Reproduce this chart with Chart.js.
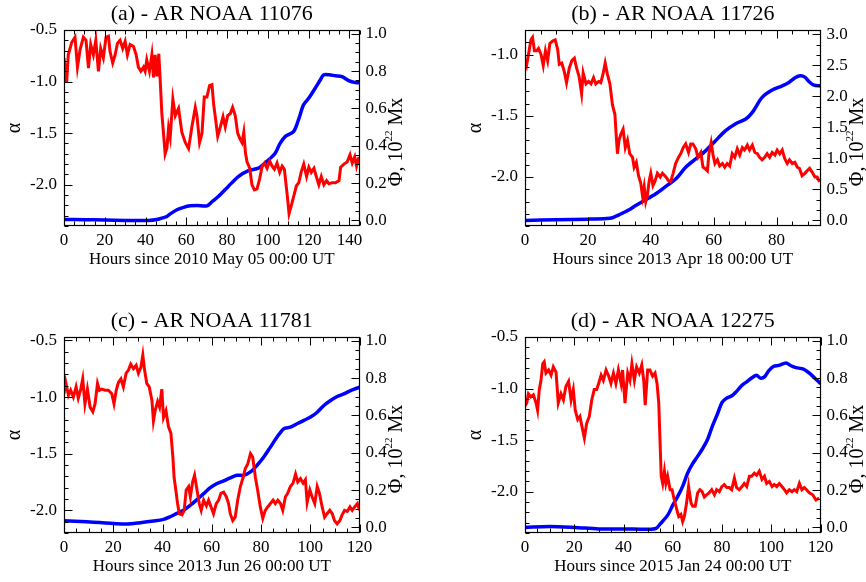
<!DOCTYPE html>
<html>
<head>
<meta charset="utf-8">
<script src="https://cdn.jsdelivr.net/npm/chart.js@4.4.1/dist/chart.umd.min.js"></script>
<style>
  html, body { margin: 0; padding: 0; background: #fff; }
  body { width: 866px; height: 582px; position: relative; overflow: hidden; }
  canvas { position: absolute; }
</style>
</head>
<body>
<canvas id="panelA" width="433" height="275" style="left:0px;top:0px"></canvas>
<canvas id="panelB" width="433" height="275" style="left:461px;top:0px"></canvas>
<canvas id="panelC" width="433" height="275" style="left:0px;top:307px"></canvas>
<canvas id="panelD" width="433" height="275" style="left:461px;top:307px"></canvas>
<script>
// ---- data ----
// (a) AR NOAA 11076
const hoursA = [0,1.3,2.1,3.8,5.4,6.6,7.9,9.5,10.8,12.0,
  13.1,14.4,15.6,16.9,18.0,19.3,20.6,21.8,22.6,23.9,
  25.1,26.2,27.5,28.8,30.0,31.1,32.4,34.1,35.4,36.5,
  37.7,39.0,39.8,40.6,41.9,43.1,43.9,44.7,45.6,46.5,
  47.2,48.0,48.8,49.6,50.5,51.3,52.1,53.4,54.6,56.2,
  57.8,59.5,61.1,62.8,64.4,65.2,66.5,67.7,68.8,70.1,
  71.4,72.6,73.4,74.2,75.4,76.7,78.0,79.1,80.3,81.6,
  82.7,84.0,85.2,86.2,87.3,88.2,89.0,89.8,91.1,92.2,
  93.4,94.7,96.0,97.2,98.3,99.6,100.9,102.1,103.2,104.5,
  105.8,107.0,108.1,109.5,110.4,111.4,112.7,114.0,115.2,116.3,
  117.6,119.0,120.1,121.3,122.6,123.9,125.0,126.2,127.5,128.8,
  129.9,131.6,133.2,134.9,135.7,137.3,138.9,140.3,141.4,142.6,
  143.5,144.7];
const alphaA = [-0.77,-1.01,-0.74,-0.62,-0.57,-0.86,-0.69,-0.57,-0.6,-0.87,
  -0.64,-0.74,-0.6,-0.9,-0.68,-0.77,-0.57,-0.56,-0.71,-0.82,
  -0.74,-0.63,-0.6,-0.68,-0.61,-0.74,-0.64,-0.66,-0.74,-0.86,
  -0.9,-0.86,-0.9,-0.79,-0.9,-0.74,-0.96,-0.74,-0.95,-0.73,
  -0.99,-1.31,-1.5,-1.70,-1.64,-1.45,-1.54,-1.17,-1.33,-1.26,
  -1.49,-1.59,-1.65,-1.43,-1.25,-1.33,-1.59,-1.5,-1.15,-1.15,
  -1.04,-1.03,-1.22,-1.34,-1.53,-1.44,-1.34,-1.44,-1.33,-1.31,
  -1.25,-1.33,-1.5,-1.55,-1.59,-1.49,-1.69,-1.78,-1.84,-2.0,
  -2.05,-2.04,-1.94,-1.82,-1.79,-1.84,-1.77,-1.82,-1.85,-1.79,
  -1.88,-1.82,-1.85,-2.1,-2.28,-2.21,-2.11,-2.01,-1.98,-1.88,
  -1.8,-1.92,-1.83,-1.88,-1.84,-1.93,-2.0,-1.92,-2.0,-1.96,
  -1.99,-1.98,-1.98,-1.96,-1.83,-1.8,-1.78,-1.71,-1.79,-1.73,
  -1.82,-1.73];
const fluxHoursA = [0,10,20,30,41.5,45.6,48.8,50.5,52.1,55.4,
  58.7,61.9,65.2,70.1,72.6,75.7,80.6,85.5,90.5,95.4,
  99.5,103.6,106.0,108.5,112.6,115.0,117.5,120.0,123.2,125.7,
  127.3,130,133.1,136.4,139.6,142.9,145];
const fluxA = [0.005,0.004,0.002,0.0,0.0,0.005,0.015,0.021,0.035,0.057,
  0.07,0.078,0.08,0.078,0.10,0.128,0.182,0.235,0.267,0.28,
  0.316,0.36,0.413,0.449,0.476,0.538,0.619,0.654,0.708,0.752,
  0.779,0.78,0.775,0.77,0.749,0.738,0.738];

// (b) AR NOAA 11726
const hoursB = [0,0.5,1.1,1.9,2.4,3.0,3.7,4.3,5.1,5.8,
  6.5,7.2,7.9,8.8,9.6,10.4,10.9,11.7,12.5,13.2,
  14.1,14.9,15.7,16.4,17.2,18.0,18.5,19.4,20.2,21.0,
  21.8,22.5,23.4,24.1,24.9,25.5,26.2,27.0,27.8,28.6,
  29.1,29.4,29.9,30.5,31.2,31.9,32.6,33.3,34.2,34.7,
  35.4,36.1,36.8,37.4,37.9,38.4,38.9,39.5,40.0,40.7,
  41.4,42.1,43.0,43.7,44.8,45.6,46.3,47.1,47.9,48.8,
  49.5,50.3,51.1,52.0,52.7,53.4,54.3,55.0,55.9,56.6,
  57.2,58.0,58.5,59.2,59.8,60.4,61.2,61.9,62.8,63.5,
  64.3,65.1,65.9,66.7,67.5,68.3,69.1,69.8,70.7,71.4,
  72.3,73.1,73.9,74.6,75.4,76.2,77.0,77.8,78.6,79.5,
  80.2,81.0,81.8,82.6,83.4,84.1,85.0,85.8,86.6,87.3,
  88.1,89.0,89.7,90.5,91.3,92.2,92.9,93.7];
const alphaB = [-1.05,-1.09,-1.0,-0.88,-0.86,-0.97,-0.97,-0.95,-1.0,-1.09,
  -0.97,-1.05,-0.91,-0.89,-0.88,-0.96,-1.08,-1.07,-1.14,-1.23,
  -1.11,-1.05,-1.03,-1.11,-1.18,-1.32,-1.15,-1.24,-1.22,-1.24,
  -1.19,-1.24,-1.22,-1.23,-1.15,-1.07,-1.16,-1.24,-1.41,-1.49,
  -1.70,-1.81,-1.70,-1.65,-1.61,-1.76,-1.70,-1.81,-1.84,-1.92,
  -1.88,-1.99,-2.05,-2.16,-2.08,-2.2,-2.15,-2.03,-1.97,-2.07,
  -2.03,-1.97,-2.0,-1.97,-2.0,-2.03,-2.04,-1.97,-1.89,-1.84,
  -1.81,-1.76,-1.73,-1.8,-1.73,-1.73,-1.77,-1.84,-1.8,-1.92,
  -1.93,-1.95,-1.81,-1.72,-1.82,-1.89,-1.86,-1.91,-1.89,-1.92,
  -1.89,-1.91,-1.81,-1.84,-1.77,-1.82,-1.76,-1.78,-1.74,-1.78,
  -1.74,-1.80,-1.81,-1.84,-1.86,-1.84,-1.81,-1.84,-1.8,-1.82,
  -1.78,-1.81,-1.78,-1.85,-1.89,-1.86,-1.89,-1.88,-1.92,-1.93,
  -1.99,-1.97,-1.95,-1.93,-1.96,-2.0,-2.0,-2.04];
const fluxHoursB = [0,10,20,26,27.8,29.9,33.1,35.2,38.4,41.6,
  44.8,48.0,51.1,54.3,57.5,60.6,63.8,67.0,70.2,72.3,
  75.4,78.6,81.8,83.9,86.0,87.6,89.0,90.3,91.9,94];
const fluxB = [0.0,0.01,0.02,0.03,0.043,0.09,0.171,0.241,0.332,0.429,
  0.55,0.67,0.857,0.991,1.125,1.286,1.447,1.56,1.635,1.742,
  1.983,2.101,2.17,2.224,2.304,2.331,2.31,2.24,2.18,2.17];

// (c) AR NOAA 11781
const hoursC = [0,0.7,1.8,2.7,3.8,4.9,5.8,6.8,7.6,8.5,
  9.5,10.6,11.7,12.6,13.6,14.4,15.3,16.7,18.0,19.4,
  20.3,21.2,22.1,23.1,24.1,25.2,26.2,27.1,28.2,29.3,
  30.2,31.2,32.0,32.7,33.6,34.6,35.7,36.3,37.0,38.0,
  38.8,39.7,40.4,41.4,42.4,43.4,44.2,44.7,45.4,46.1,
  46.8,47.9,48.8,49.6,50.6,51.3,52.2,53.0,54.0,54.9,
  55.7,56.7,57.8,58.7,59.7,60.7,61.8,62.8,63.7,64.8,
  65.9,66.8,67.5,68.5,69.5,70.5,71.6,72.7,73.6,74.6,
  75.7,76.6,77.7,78.6,79.7,80.7,81.7,82.7,83.8,84.9,
  85.8,86.8,87.9,88.8,89.9,90.8,91.9,93.0,94.0,94.9,
  96.0,97.1,98.0,98.7,99.8,100.7,101.8,102.8,103.7,104.8,
  105.8,106.8,107.9,108.9,109.8,110.9,112.0,112.9,113.9,115.0,
  116.1,117.0,118.0,119.1,120];
const alphaC = [-0.97,-0.87,-0.985,-0.94,-1.0,-0.91,-1.01,-0.93,-0.84,-1.06,
  -0.93,-1.09,-1.13,-1.06,-0.88,-0.94,-0.93,-0.94,-0.94,-0.97,
  -1.06,-0.94,-0.87,-0.84,-0.91,-0.79,-0.76,-0.71,-0.75,-0.72,
  -0.79,-0.74,-0.63,-0.76,-0.88,-0.91,-1.03,-1.21,-1.12,-1.04,
  -1.09,-0.93,-1.18,-1.12,-1.26,-1.32,-1.53,-1.71,-1.82,-1.94,
  -2.03,-2.04,-2.0,-1.82,-1.79,-1.88,-1.75,-1.69,-1.82,-1.94,
  -2.0,-1.91,-1.96,-1.91,-1.97,-2.03,-1.94,-1.91,-1.85,-1.84,
  -1.88,-1.94,-2.03,-2.09,-2.06,-1.91,-1.79,-1.71,-1.63,-1.59,
  -1.5,-1.53,-1.71,-1.82,-1.97,-2.07,-2.0,-1.97,-1.94,-1.91,
  -1.94,-1.91,-1.94,-2.0,-1.88,-1.85,-1.79,-1.76,-1.68,-1.75,
  -1.72,-1.76,-1.73,-1.93,-1.82,-1.88,-1.94,-1.79,-1.85,-1.97,
  -2.06,-2.03,-2.0,-2.03,-2.09,-2.12,-2.09,-2.04,-2.0,-2.01,
  -1.97,-2.0,-1.97,-1.94,-2.0];
const fluxHoursC = [0,9.2,14.6,20.1,25.5,30.9,36.3,40.4,43.1,45.8,
  48.5,51.3,54.0,56.7,59.4,62.1,64.8,67.5,70.2,72.9,
  75.7,78.4,81.1,83.8,86.5,89.2,91.9,94.6,97.4,100.1,
  102.8,105.5,108.2,110.9,113.6,116.3,120];
const fluxC = [0.035,0.03,0.026,0.021,0.018,0.025,0.034,0.043,0.057,0.075,
  0.092,0.119,0.149,0.181,0.213,0.235,0.249,0.265,0.279,0.279,
  0.297,0.333,0.377,0.43,0.484,0.528,0.537,0.555,0.573,0.591,
  0.617,0.653,0.68,0.701,0.715,0.733,0.751];

// (d) AR NOAA 12275
const hoursD = [0,0.7,1.4,2.4,3.4,4.5,5.1,5.8,6.5,7.2,
  7.8,8.5,9.6,10.6,11.5,12.6,13.5,14.6,15.6,16.6,
  17.7,18.7,19.6,20.4,21.4,22.3,23.4,24.1,25.0,26.1,
  27.1,28.1,29.1,29.9,30.9,31.8,32.9,34.0,34.9,35.9,
  36.9,37.9,39.0,39.6,40.6,41.7,42.6,43.4,44.4,45.3,
  46.4,47.4,48.2,48.8,49.8,50.7,51.8,52.8,53.6,54.3,
  54.8,55.3,55.9,56.6,57.2,57.9,58.9,59.7,60.6,61.6,
  62.4,63.3,64.0,64.7,65.6,66.4,67.4,68.1,69.1,70.1,
  71.0,71.9,72.8,73.7,74.8,75.8,76.9,77.8,78.9,79.9,
  80.9,81.9,82.9,83.9,85.0,85.9,87.0,88.1,89.0,90.0,
  91.1,92.0,93.1,94.0,95.1,96.2,97.2,98.1,99.2,100.3,
  101.2,102.2,103.2,104.3,105.3,106.2,107.3,108.4,109.3,110.3,
  111.4,112.4,113.4,114.3,115.4,116.8,118.1,119.4];
const alphaD = [-1.17,-1.14,-1.05,-1.08,-1.06,-1.14,-1.21,-1.01,-0.92,-0.76,
  -0.74,-0.85,-0.82,-0.87,-0.79,-0.84,-1.14,-1.05,-1.11,-0.98,
  -0.93,-1.11,-1.01,-1.21,-1.30,-1.27,-1.40,-1.48,-1.34,-1.27,
  -1.11,-1.01,-1.01,-0.95,-0.87,-0.92,-0.82,-0.88,-0.95,-0.85,
  -0.95,-0.82,-0.95,-0.82,-1.14,-0.85,-0.92,-0.76,-0.92,-0.79,
  -0.85,-0.77,-0.92,-1.16,-0.82,-0.82,-0.88,-0.85,-0.95,-1.14,
  -1.50,-1.85,-1.92,-1.80,-1.92,-1.85,-1.98,-1.98,-2.08,-2.17,
  -2.24,-2.22,-2.29,-2.24,-2.11,-1.95,-2.11,-2.14,-2.14,-2.01,
  -1.98,-2.0,-2.05,-2.03,-2.01,-1.98,-2.03,-1.98,-2.0,-1.95,
  -1.93,-1.96,-1.96,-1.98,-1.87,-1.96,-1.98,-1.95,-1.92,-1.95,
  -1.85,-1.85,-1.82,-1.84,-1.80,-1.88,-1.85,-1.92,-1.90,-1.95,
  -1.93,-1.95,-1.92,-1.95,-1.98,-2.01,-1.98,-2.0,-1.98,-2.0,
  -1.92,-1.98,-1.96,-1.98,-2.01,-2.03,-2.08,-2.06];
const fluxHoursD = [0,10,20,30,40,50,53.2,55,58,60,
  62,64,66,68,70,72,74,76,78.2,80,
  81.6,84,86,88,90,92,94,95.5,97.2,99,
  101,103,106,108,110,113,116,118,120];
const fluxD = [0.0,0.005,0.0,-0.008,-0.008,-0.01,-0.005,0.02,0.067,0.12,
  0.166,0.22,0.29,0.34,0.379,0.42,0.468,0.54,0.61,0.67,
  0.69,0.705,0.73,0.76,0.78,0.80,0.815,0.80,0.806,0.84,
  0.863,0.868,0.881,0.866,0.856,0.848,0.82,0.795,0.77];

const titles = ['(a) - AR NOAA 11076', '(b) - AR NOAA 11726', '(c) - AR NOAA 11781', '(d) - AR NOAA 12275'];
const xTitles = ['Hours since 2010 May 05 00:00 UT', 'Hours since 2013 Apr 18 00:00 UT',
  'Hours since 2013 Jun 26 00:00 UT', 'Hours since 2015 Jan 24 00:00 UT'];

// ---- drawing ----
const SERIF = '"Liberation Serif", "Times New Roman", serif';
Chart.defaults.font.family = SERIF;
Chart.defaults.color = '#000';

function eachTick(scale, major, minor, fn) {
  const n0 = Math.ceil(scale.min / minor - 1e-6);
  const n1 = Math.floor(scale.max / minor + 1e-6);
  for (let n = n0; n <= n1; n++) {
    const v = n * minor;
    const r = v / major;
    fn(Math.round(scale.getPixelForValue(v)) + 0.5, Math.abs(r - Math.round(r)) < 1e-6);
  }
}

// IDL style box with inward major/minor ticks on all sides
const frameTicks = {
  id: 'frameTicks',
  afterDraw(chart, args, opts) {
    const {ctx, chartArea: a, scales} = chart;
    const L = Math.round(a.left) + 0.5, R = Math.round(a.right) - 0.5;
    const T = Math.round(a.top) + 0.5, B = Math.round(a.bottom) - 0.5;
    ctx.save();
    ctx.strokeStyle = '#000';
    ctx.lineWidth = 1.2;
    ctx.strokeRect(L, T, R - L, B - T);
    ctx.lineWidth = 1;
    ctx.beginPath();
    eachTick(scales.x, opts.xMajor, opts.xMinor, (p, major) => {
      const len = major ? 8 : 4;
      ctx.moveTo(p, B); ctx.lineTo(p, B - len);
      ctx.moveTo(p, T); ctx.lineTo(p, T + len);
    });
    eachTick(scales.alpha, opts.aMajor, opts.aMinor, (p, major) => {
      ctx.moveTo(L, p); ctx.lineTo(L + (major ? 8 : 4), p);
    });
    eachTick(scales.flux, opts.fMajor, opts.fMinor, (p, major) => {
      ctx.moveTo(R, p); ctx.lineTo(R - (major ? 8 : 4), p);
    });
    ctx.stroke();
    ctx.restore();
  }
};

// panel title and the rotated flux axis title with its superscript
const panelText = {
  id: 'panelText',
  afterDraw(chart, args, opts) {
    const {ctx, chartArea: a, scales} = chart;
    ctx.save();
    ctx.fillStyle = '#000';
    ctx.font = '22px ' + SERIF;
    ctx.textAlign = 'center';
    ctx.textBaseline = 'middle';
    ctx.fillText(opts.title, (a.left + a.right) / 2, a.top - 16);

    const parts = [['\u03A6, 10', 20, 0], ['22', 11, -7], [' Mx', 20, 0]];
    let total = 0;
    parts.forEach(p => { ctx.font = p[1] + 'px ' + SERIF; p.push(ctx.measureText(p[0]).width); total += p[3]; });
    ctx.translate(scales.flux.left + 37, (a.top + a.bottom) / 2 + 14);
    ctx.rotate(-Math.PI / 2);
    ctx.textAlign = 'left';
    ctx.textBaseline = 'middle';
    let x = -total / 2;
    parts.forEach(p => {
      ctx.font = p[1] + 'px ' + SERIF;
      ctx.fillText(p[0], x, p[2]);
      x += p[3];
    });
    ctx.restore();
  }
};

function pairs(xs, ys) {
  return xs.map((x, i) => ({x: x, y: ys[i]}));
}

function makePanel(id, p) {
  return new Chart(document.getElementById(id), {
    type: 'line',
    data: {
      datasets: [
        { label: 'alpha', data: pairs(p.hours, p.alpha), yAxisID: 'alpha',
          borderColor: '#ff0000', borderWidth: 3, pointRadius: 0, tension: 0 },
        { label: 'flux', data: pairs(p.fluxHours, p.flux), yAxisID: 'flux',
          borderColor: '#0000ff', borderWidth: 3.5, pointRadius: 0, tension: 0.3 }
      ]
    },
    options: {
      responsive: false,
      animation: false,
      layout: { padding: { top: 30, left: 0, right: 0, bottom: 0 } },
      plugins: {
        legend: { display: false },
        tooltip: { enabled: false },
        frameTicks: { xMajor: 20, xMinor: 5, aMajor: 0.5, aMinor: 0.1, fMajor: p.fStep, fMinor: p.fMinor },
        panelText: { title: p.title }
      },
      scales: {
        x: {
          type: 'linear', position: 'bottom', min: 0, max: p.xMax,
          grid: { display: false, drawTicks: false }, border: { display: false },
          ticks: { stepSize: 20, includeBounds: false, maxRotation: 0, padding: 4,
                   font: { size: 17 }, callback: v => v.toFixed(0) },
          title: { display: true, text: p.xTitle, font: { size: 17 }, padding: { top: 0, bottom: 5 } },
          afterFit: s => { s.height = 49; }
        },
        alpha: {
          type: 'linear', position: 'left', min: p.aMin, max: p.aMax,
          grid: { display: false, drawTicks: false }, border: { display: false },
          ticks: { stepSize: 0.5, includeBounds: false, padding: 7,
                   font: { size: 17 }, callback: v => v.toFixed(1) },
          title: { display: true, text: '\u03B1', font: { size: 20 }, padding: { top: 3, bottom: 0 } },
          afterFit: s => { s.width = 64; }
        },
        flux: {
          type: 'linear', position: 'right', min: p.fMin, max: p.fMax,
          grid: { display: false, drawTicks: false }, border: { display: false },
          ticks: { stepSize: p.fStep, includeBounds: false, padding: 6,
                   font: { size: 17 }, callback: v => v.toFixed(1) },
          afterFit: s => { s.width = 73.4; }
        }
      }
    },
    plugins: [frameTicks, panelText]
  });
}

makePanel('panelA', { title: titles[0], xTitle: xTitles[0], xMax: 145,
  hours: hoursA, alpha: alphaA, fluxHours: fluxHoursA, flux: fluxA,
  aMin: -2.4, aMax: -0.5, fMin: -0.03, fMax: 1.02, fStep: 0.2, fMinor: 0.05 });
makePanel('panelB', { title: titles[1], xTitle: xTitles[1], xMax: 94,
  hours: hoursB, alpha: alphaB, fluxHours: fluxHoursB, flux: fluxB,
  aMin: -2.4, aMax: -0.8, fMin: -0.09, fMax: 3.07, fStep: 0.5, fMinor: 0.5 / 3 });
makePanel('panelC', { title: titles[2], xTitle: xTitles[2], xMax: 120,
  hours: hoursC, alpha: alphaC, fluxHours: fluxHoursC, flux: fluxC,
  aMin: -2.2, aMax: -0.47, fMin: -0.03, fMax: 1.02, fStep: 0.2, fMinor: 0.05 });
makePanel('panelD', { title: titles[3], xTitle: xTitles[3], xMax: 120,
  hours: hoursD, alpha: alphaD, fluxHours: fluxHoursD, flux: fluxD,
  aMin: -2.4, aMax: -0.5, fMin: -0.03, fMax: 1.02, fStep: 0.2, fMinor: 0.05 });
</script>
</body>
</html>
